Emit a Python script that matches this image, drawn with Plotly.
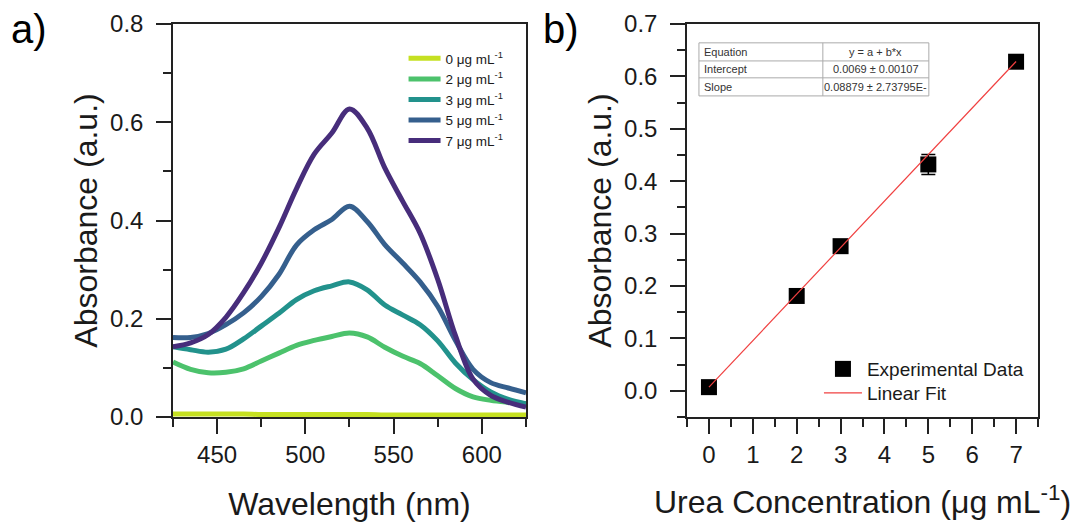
import plotly.graph_objects as go

# ---------------- data ----------------
wavelength = [425, 435, 445, 455, 465, 475, 485, 495, 505, 515, 525, 535, 545, 555, 565, 575, 585, 595, 605, 615, 625]
abs_0 = [0.006, 0.006, 0.006, 0.006, 0.006, 0.005, 0.005, 0.005, 0.005, 0.005, 0.005, 0.005, 0.004, 0.004, 0.004, 0.004, 0.004, 0.004, 0.004, 0.004, 0.004]
abs_2 = [0.112, 0.097, 0.090, 0.091, 0.098, 0.114, 0.130, 0.146, 0.156, 0.164, 0.171, 0.163, 0.142, 0.124, 0.109, 0.084, 0.058, 0.041, 0.034, 0.030, 0.027]
abs_3 = [0.143, 0.137, 0.132, 0.138, 0.159, 0.185, 0.211, 0.239, 0.257, 0.267, 0.275, 0.259, 0.228, 0.208, 0.188, 0.155, 0.110, 0.076, 0.051, 0.036, 0.027]
abs_5 = [0.162, 0.162, 0.170, 0.188, 0.212, 0.245, 0.290, 0.350, 0.381, 0.402, 0.429, 0.398, 0.351, 0.314, 0.275, 0.225, 0.156, 0.097, 0.070, 0.059, 0.049]
abs_7 = [0.143, 0.151, 0.168, 0.203, 0.253, 0.313, 0.385, 0.465, 0.535, 0.578, 0.627, 0.588, 0.507, 0.440, 0.374, 0.280, 0.166, 0.077, 0.044, 0.030, 0.020]
series_labels = ["0 μg mL<sup>-1</sup>", "2 μg mL<sup>-1</sup>", "3 μg mL<sup>-1</sup>",
                 "5 μg mL<sup>-1</sup>", "7 μg mL<sup>-1</sup>"]
series_colors = ["#c5e021", "#4cc26c", "#22928c", "#355f8d", "#472d7b"]

conc = [0, 2, 3, 5, 7]
absorbance = [0.007, 0.181, 0.276, 0.432, 0.628]
abs_err = [0.003, 0.004, 0.005, 0.019, 0.004]
fit_x = [0, 7]
intercept = 0.0069
slope = 0.08879
fit_y = [intercept + slope * x for x in fit_x]

table_rows = [("Equation", "y = a + b*x"),
              ("Intercept", "0.0069 ± 0.00107"),
              ("Slope", "0.08879 ± 2.73795E-")]

FONT = "Arial, 'Liberation Sans', sans-serif"
TXT = "#1a1a1a"

fig = go.Figure()

for ys, name, col in zip([abs_0, abs_2, abs_3, abs_5, abs_7], series_labels, series_colors):
    fig.add_trace(go.Scatter(x=wavelength, y=ys, mode="lines", name=name,
                             line=dict(color=col, width=5, shape="spline", smoothing=1.0),
                             xaxis="x", yaxis="y", legend="legend"))

fig.add_trace(go.Scatter(x=conc, y=absorbance, mode="markers", name="Experimental Data",
                         marker=dict(symbol="square", size=16, color="black"),
                         error_y=dict(type="data", array=abs_err, color="black", thickness=1.5, width=7),
                         xaxis="x2", yaxis="y2", legend="legend2"))
fig.add_trace(go.Scatter(x=fit_x, y=fit_y, mode="lines", name="Linear Fit",
                         line=dict(color="#f04040", width=1.2),
                         xaxis="x2", yaxis="y2", legend="legend3"))

axis_common = dict(showline=True, linecolor="#222", linewidth=1.5, mirror=True,
                   ticks="outside", tickcolor="#222", tickwidth=1.5, ticklen=15,
                   showgrid=False, zeroline=False, automargin=False,
                   tickfont=dict(family=FONT, size=24, color=TXT),
                   title_font=dict(family=FONT, size=32, color=TXT))
minor_common = dict(ticks="outside", ticklen=8, tickcolor="#222", tickwidth=1.5)

fig.update_layout(
    template="none",
    width=1077, height=525, margin=dict(l=0, r=0, t=0, b=0, autoexpand=False),
    paper_bgcolor="white", plot_bgcolor="white",
    font=dict(family=FONT, color=TXT),
    xaxis=dict(axis_common, domain=[0.1606, 0.4884], range=[425, 625], dtick=50, tick0=450,
               minor=dict(minor_common, dtick=25, tick0=425),
               title=dict(text="Wavelength (nm)", standoff=26), ticklabelstandoff=0, anchor="y"),
    yaxis=dict(axis_common, domain=[0.2057, 0.9543], range=[0, 0.8], dtick=0.2, tickformat=".1f",
               minor=dict(minor_common, dtick=0.1),
               title=dict(text="Absorbance (a.u.)", standoff=3), ticklabelstandoff=8, anchor="x"),
    xaxis2=dict(axis_common, domain=[0.6379, 0.9638], range=[-0.5, 7.5], dtick=1, tick0=0,
                minor=dict(minor_common, dtick=0.5, tick0=-0.5),
                title=dict(text="Urea Concentration (μg mL<sup>-1</sup>)", standoff=24), ticklabelstandoff=0, anchor="y2"),
    yaxis2=dict(axis_common, domain=[0.2057, 0.9543], range=[-0.05, 0.7], dtick=0.1, tick0=0, tickformat=".1f",
                minor=dict(minor_common, dtick=0.05, tick0=-0.05),
                title=dict(text="Absorbance (a.u.)", standoff=3), ticklabelstandoff=8, anchor="x2"),
    legend=dict(x=0.3747, y=0.918, xanchor="left", yanchor="top", bgcolor="rgba(0,0,0,0)",
                font=dict(family=FONT, size=13.5, color=TXT), tracegroupgap=0, itemwidth=32,
                traceorder="normal"),
    legend2=dict(x=0.7604, y=0.2971, xanchor="left", yanchor="middle", bgcolor="rgba(0,0,0,0)",
                 font=dict(family=FONT, size=19, color=TXT), itemwidth=38),
    legend3=dict(x=0.7604, y=0.2514, xanchor="left", yanchor="middle", bgcolor="rgba(0,0,0,0)",
                 font=dict(family=FONT, size=19, color=TXT), itemwidth=38),
)

# panel labels
fig.add_annotation(text="a)", xref="paper", yref="paper", x=0.008, y=0.99, xanchor="left", yanchor="top",
                   showarrow=False, font=dict(family=FONT, size=40, color="black"))
fig.add_annotation(text="b)", xref="paper", yref="paper", x=0.502, y=0.99, xanchor="left", yanchor="top",
                   showarrow=False, font=dict(family=FONT, size=40, color="black"))

# fit-parameter table (panel b)
tx0, tx1, tx2 = 0.034, 0.387, 0.689
ty = [0.952, 0.906, 0.863, 0.817]
lc = "#aaaaaa"
fig.add_shape(type="rect", xref="x2 domain", yref="y2 domain", x0=tx0, x1=tx2, y0=ty[3], y1=ty[0],
              line=dict(color=lc, width=1))
fig.add_shape(type="line", xref="x2 domain", yref="y2 domain", x0=tx1, x1=tx1, y0=ty[3], y1=ty[0],
              line=dict(color=lc, width=1))
for yy in ty[1:3]:
    fig.add_shape(type="line", xref="x2 domain", yref="y2 domain", x0=tx0, x1=tx2, y0=yy, y1=yy,
                  line=dict(color=lc, width=1))
for i, (k, v) in enumerate(table_rows):
    yc = (ty[i] + ty[i + 1]) / 2
    fig.add_annotation(text=k, xref="x2 domain", yref="y2 domain", x=tx0 + 0.008, y=yc,
                       xanchor="left", yanchor="middle", showarrow=False,
                       font=dict(family=FONT, size=11, color="#333"))
    fig.add_annotation(text=v, xref="x2 domain", yref="y2 domain", x=(tx1 + tx2) / 2, y=yc,
                       xanchor="center", yanchor="middle", showarrow=False,
                       font=dict(family=FONT, size=11, color="#333"))

fig.write_html("out.html")
